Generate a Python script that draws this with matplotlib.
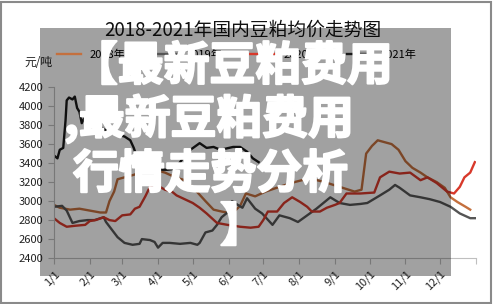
import matplotlib
matplotlib.use('Agg')
import matplotlib.pyplot as plt
import matplotlib.patheffects as pe
from matplotlib.patches import Rectangle

plt.rcParams['font.family'] = ['Noto Sans CJK SC', 'DejaVu Sans']

# day of year / price (元/吨)
days_2018 = [0, 5, 14, 22, 31, 40, 45, 48, 52, 55, 61, 70, 79, 87, 96, 105, 113, 122, 131, 138,
             145, 154, 161, 166, 174, 183, 195, 208, 221, 234, 247, 260, 266, 270, 275, 280, 286,
             292, 298, 304, 310, 317, 323, 331, 338, 343, 349, 356, 360]
price_2018 = [2960, 2930, 2910, 2920, 2900, 2880, 2880, 3000, 3100, 3230, 3250, 3280, 3350, 3330,
              3300, 3250, 3220, 3120, 3000, 2910, 2890, 2870, 2950, 3080, 3050, 3100, 3150, 3200,
              3240, 3200, 3150, 3100, 3120, 3500, 3580, 3640, 3620, 3600, 3540, 3420, 3350, 3300,
              3250, 3200, 3140, 3040, 2990, 2940, 2910]

days_2019 = [0, 7, 11, 16, 22, 29, 35, 43, 45, 50, 55, 61, 68, 74, 76, 83, 87, 90, 94, 100, 109,
             118, 124, 126, 131, 137, 141, 145, 150, 154, 159, 163, 167, 174, 180, 189, 195, 204,
             211, 219, 227, 239, 247, 256, 265, 271, 282, 290, 295, 299, 308, 317, 325, 334, 343,
             351, 360, 365]
price_2019 = [2940, 2950, 2900, 2770, 2790, 2800, 2800, 2830, 2780, 2700, 2620, 2560, 2540, 2550,
              2600, 2590, 2570, 2510, 2560, 2560, 2550, 2560, 2540, 2560, 2670, 2690, 2750, 2830,
              2880, 3000, 2960, 2930, 3030, 2920, 2870, 2750, 2850, 2820, 2780, 2850, 2920, 3040,
              2980, 2960, 2970, 2980, 3060, 3120, 3170, 3140, 3060, 3040, 3020, 2990, 2940, 2870,
              2820, 2820]

days_2020 = [0, 5, 11, 18, 27, 31, 36, 43, 48, 53, 59, 66, 70, 74, 79, 83, 87, 96, 102, 106, 113,
             120, 126, 132, 141, 150, 161, 170, 177, 181, 185, 193, 199, 206, 213, 219, 223, 230,
             236, 243, 247, 253, 265, 277, 282, 290, 299, 308, 317, 323, 331, 340, 346, 351, 355,
             360, 364]
price_2020 = [2820, 2770, 2730, 2740, 2750, 2790, 2800, 2830, 2800, 2790, 2850, 2860, 2920, 2940,
              3050, 3150, 3180, 3120, 3100, 3060, 3020, 2980, 2930, 2870, 2770, 2750, 2730, 2720,
              2730, 2800, 2890, 2890, 2980, 3040, 2990, 2940, 2890, 2890, 2930, 2960, 2980, 3080,
              3080, 3090, 3250, 3310, 3290, 3300, 3220, 3250, 3190, 3100, 3080, 3150, 3250, 3300,
              3410]

days_2021 = [0, 3, 5, 8, 10, 11, 13, 16, 18, 20, 22, 24, 26, 35, 48, 61, 66, 69, 73, 79, 89, 98,
             105, 112, 118, 126, 132, 138, 144, 155, 161, 167, 172, 177]
price_2021 = [3480, 3450, 3540, 3560, 3850, 4060, 4090, 4070, 4100, 3980, 3940, 3820, 3870, 3820,
              3720, 3680, 3640, 3560, 3420, 3380, 3330, 3330, 3340, 3460, 3540, 3610, 3560, 3570,
              3540, 3570, 3570, 3520, 3450, 3410]

month_days = [0, 31, 59, 90, 120, 151, 181, 212, 243, 273, 304, 334]
month_labels = ['1/1', '2/1', '3/1', '4/1', '5/1', '6/1', '7/1', '8/1', '9/1', '10/1', '11/1', '12/1']
y_ticks = list(range(2400, 4201, 200))

fig = plt.figure(figsize=(4.93, 3.04), dpi=100)
ax = fig.add_axes([0.1095, 0.151, 0.856, 0.5625])

ax.plot(days_2018, price_2018, color='#c4703e', lw=1.7, label='2018年')
ax.plot(days_2019, price_2019, color='#555555', lw=1.7, label='2019年')
ax.plot(days_2020, price_2020, color='#d8392b', lw=1.7, label='2020年')
ax.plot(days_2021, price_2021, color='#1a1a1a', lw=1.7, label='2021年')

ax.set_xlim(0, 365)
ax.set_ylim(2400, 4200)
ax.set_xticks(month_days + [365])
ax.set_xticklabels(month_labels + [''], rotation=45, ha='right', rotation_mode='anchor', fontsize=8)
ax.set_yticks(y_ticks)
ax.set_yticklabels([str(v) for v in y_ticks], fontsize=8)
for s in ['top', 'right']:
    ax.spines[s].set_visible(False)
for s in ['left', 'bottom']:
    ax.spines[s].set_color('#bfbfbf')
ax.tick_params(colors='#bfbfbf', labelcolor='#222222', length=4, width=0.8)

fig.text(0.493, 1 - 30 / 304, '2018-2021年国内豆粕均价走势图', ha='center', va='center',
         fontsize=13.5, color='#111111')
fig.text(38 / 493, 1 - 63 / 304, '元/吨', ha='center', va='center', fontsize=8.5, color='#222222')
fig.legend(loc='center', bbox_to_anchor=(0.48, 1 - 55 / 304), ncol=4, frameon=False,
           fontsize=8, handlelength=2.2, columnspacing=2.5)

# border of the picture
fig.patches.append(Rectangle((1 / 493, 1 / 304), 490 / 493, 301 / 304, transform=fig.transFigure,
                             fill=False, edgecolor='#8a8a8a', lw=1.5))

# dark overlay with the headline
fig.patches.append(Rectangle((40 / 493, 1 - 276 / 304), 411 / 493, 248 / 304,
                             transform=fig.transFigure, facecolor='black', alpha=0.37,
                             edgecolor='none', zorder=5))
lines = ['【最新豆粕费用', ',最新豆粕费用', '行情走势分析', '】']
line_x = [72, 64, 73, 220]
line_y = [67, 119, 175, 228]
for t, xp, yp in zip(lines, line_x, line_y):
    fig.text(xp / 493, 1 - yp / 304, t, ha='left', va='center', fontsize=33,
             fontweight='black', color='white', zorder=6,
             path_effects=[pe.withStroke(linewidth=1.5, foreground='white')])

fig.savefig('out.png', dpi=100)
